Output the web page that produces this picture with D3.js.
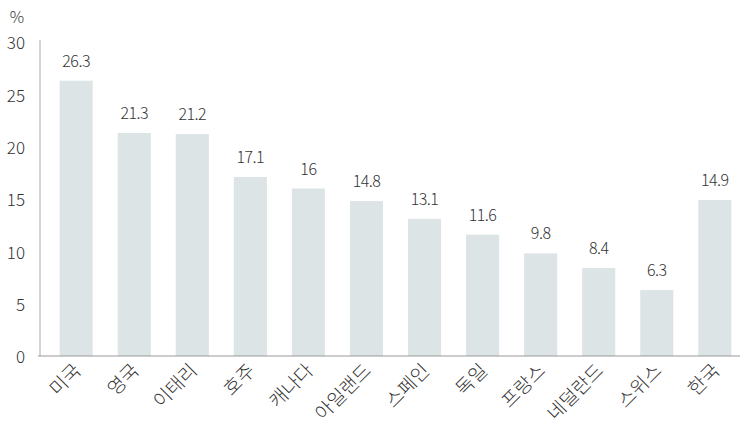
<!DOCTYPE html>
<html>
<head>
<meta charset="utf-8">
<script src="https://cdn.jsdelivr.net/npm/d3@7"></script>
<style>
  body { margin: 0; background: #fff; }
  text { font-family: "Noto Sans CJK KR", "Noto Sans", sans-serif; fill: #333; }
</style>
</head>
<body>
<svg id="chart" width="740" height="430"></svg>
<script>
const countries = ["미국", "영국", "이태리", "호주", "캐나다", "아일랜드", "스페인", "독일", "프랑스", "네덜란드", "스위스", "한국"];
const values = [26.3, 21.3, 21.2, 17.1, 16, 14.8, 13.1, 11.6, 9.8, 8.4, 6.3, 14.9];
const valueLabels = ["26.3", "21.3", "21.2", "17.1", "16", "14.8", "13.1", "11.6", "9.8", "8.4", "6.3", "14.9"];
const yTicks = [0, 5, 10, 15, 20, 25, 30];

const svg = d3.select("#chart");
const x = d3.scaleBand().domain(countries).range([48, 743]).paddingInner(0.43).paddingOuter(0.2);
const y = d3.scaleLinear().domain([0, 30]).range([356, 42]);

// bars
svg.append("g").selectAll("rect").data(values).join("rect")
  .attr("x", (d, i) => x(countries[i]))
  .attr("y", d => y(d))
  .attr("width", x.bandwidth())
  .attr("height", d => y(0) - y(d))
  .attr("fill", "#dde4e6");

// value labels
svg.append("g").selectAll("text").data(values).join("text")
  .attr("x", (d, i) => x(countries[i]) + x.bandwidth() / 2)
  .attr("y", d => y(d) - 14)
  .attr("text-anchor", "middle")
  .attr("font-size", 16)
  .attr("font-weight", 300)
  .attr("letter-spacing", "-0.5")
  .text((d, i) => valueLabels[i]);

// y axis
const yAxis = svg.append("g").attr("transform", "translate(40,0)")
  .call(d3.axisLeft(y).tickValues(yTicks).tickSize(0).tickPadding(15));
yAxis.select(".domain").attr("stroke", "#aaa").attr("d", `M0,${y(0)}V40`);
yAxis.selectAll("text").attr("font-size", 17).attr("font-weight", 300).attr("dy", "0.4em")
  .style("font-family", '"Noto Sans CJK KR", sans-serif').attr("fill", "#333");

// x axis
const xAxis = svg.append("g").attr("transform", `translate(0,${y(0)})`)
  .call(d3.axisBottom(x).tickSize(0).tickPadding(0));
xAxis.select(".domain").attr("stroke", "#999").attr("d", "M38,0H740");
xAxis.selectAll("text")
  .attr("font-size", 19).attr("font-weight", 300)
  .style("font-family", '"Noto Sans CJK KR", sans-serif').attr("fill", "#333")
  .attr("text-anchor", "end")
  .attr("dy", null).attr("y", 0)
  .attr("transform", "translate(6,16) rotate(-45)");

// unit
svg.append("text").attr("x", 17).attr("y", 23).attr("text-anchor", "middle")
  .attr("font-size", 16).attr("font-weight", 300).text("%");
</script>
</body>
</html>
